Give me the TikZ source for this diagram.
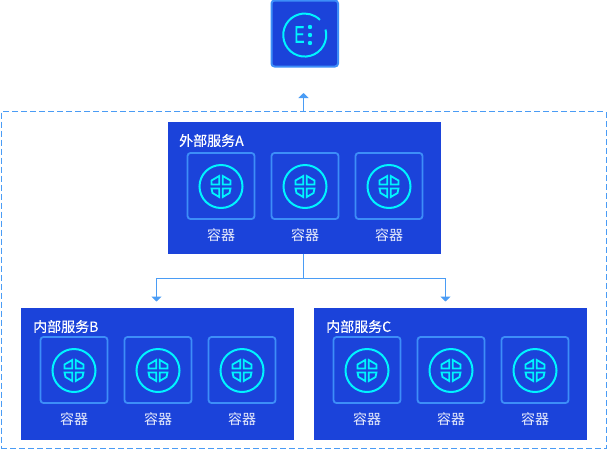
\documentclass[tikz,border=0pt]{standalone}
\usepackage{fontspec}
\usepackage{xcolor}
\usetikzlibrary{arrows.meta, positioning}
\newfontfamily\cjk{Noto Sans CJK SC}
\newfontfamily\cjkmed[FakeBold=0.25]{Noto Sans CJK SC}
\newfontfamily\latin[FakeBold=0.4]{Liberation Sans}
\definecolor{svcblue}{HTML}{1B43DA}
\definecolor{edgeblue}{HTML}{3D8EF8}
\definecolor{linkblue}{HTML}{4A9CF5}
\definecolor{ringcyan}{HTML}{00F4FF}

\begin{document}
\begin{tikzpicture}[x=1pt, y=1pt, >=Stealth]
    \tikzset{
        svcnode/.style={fill=svcblue, rectangle, minimum width=273pt, minimum height=132pt, inner sep=0pt, outer sep=0pt},
        gatenode/.style={draw=edgeblue, fill=svcblue, rectangle, rounded corners=3pt, line width=2pt, minimum width=66.5pt, minimum height=66pt, inner sep=0pt, outer sep=0pt},
        zonenode/.style={draw=linkblue, dash pattern=on 6pt off 3pt, rectangle, line width=1pt, minimum width=605pt, minimum height=337pt, inner sep=0pt, outer sep=0pt},
        boxnode/.style={draw=edgeblue, rectangle, rounded corners=3pt, line width=1.8pt, minimum width=67pt, minimum height=66pt, inner sep=0pt, outer sep=0pt},
        ringnode/.style={draw=ringcyan, circle, line width=2pt, minimum size=43pt, inner sep=0pt, outer sep=0pt},
        titlenode/.style={text=white, font=\cjkmed\fontsize{14}{16}\selectfont, anchor=west, inner sep=0pt},
        labelnode/.style={text=white!90!svcblue, font=\cjk\fontsize{14}{16}\selectfont, inner sep=0pt},
        glyph/.style={draw=ringcyan, line width=1.8pt, line join=miter},
        link/.style={draw=linkblue, line width=1pt, -{Triangle[width=10pt, length=5pt]}},
        podbox/.pic={
            \node [boxnode] (-box) {};
            \node [ringnode] (-ring) at (0,-0.5) {};
            \node [labelnode, below=42.5pt of -box.center] (-label) {容器};
            % four parts of the wheel
            \draw [glyph] (-1.8,10) -- (-9.5,5.5) -- (-9.5,1.5) -- (-1.8,1.5) -- cycle;
            \draw [glyph] (1.8,10) -- (9.5,5.5) -- (9.5,1.5) -- (1.8,1.5) -- cycle;
            \draw [glyph] (-1.8,-11) -- (-8.5,-7) -- (-9.5,-2.5) -- (-1.8,-2.5) -- cycle;
            \draw [glyph] (1.8,-11) -- (8.5,-7) -- (9.5,-2.5) -- (1.8,-2.5) -- cycle;
        }
    }
    \useasboundingbox (0,0) rectangle (607,-450);

    \node [zonenode] (zone) at (303.5,-280) {};
    \node [gatenode] (gate) at (304.75,-33.5) {};

    \node [svcnode, below=55pt of gate, xshift=-0.25pt] (svcA) {};
    \node [svcnode, below=54pt of svcA.south, xshift=-147pt] (svcB) {};
    \node [svcnode, below=54pt of svcA.south, xshift=146pt] (svcC) {};

    \node [titlenode] (titleA) at ([shift={(11,-19)}]svcA.north west) {外部服务A};
    \node [titlenode] (titleB) at ([shift={(12,-19)}]svcB.north west) {内部服务B};
    \node [titlenode] (titleC) at ([shift={(12,-19)}]svcC.north west) {内部服务C};

    \foreach \n/\dx in {1/53, 2/137, 3/221} {
        \pic (a\n) at ([shift={(\dx,-64.5)}]svcA.north west) {podbox};
        \pic (b\n) at ([shift={(\dx,-62.5)}]svcB.north west) {podbox};
        \pic (c\n) at ([shift={(\dx,-62.5)}]svcC.north west) {podbox};
    }

    % gate icon
    \draw [draw=ringcyan, line width=2pt] (325.5,-29.5) arc (15:-315:21.5);
    \node [text=ringcyan, font=\latin\fontsize{24}{24}\selectfont, xscale=0.62, inner sep=0pt] (gateE) at (299.5,-34.5) {E};
    \foreach \n/\y in {1/-27, 2/-35, 3/-43} {
        \fill [ringcyan] (310,\y) circle (2.2pt);
    }

    \coordinate (tipTop) at (303.5,-93);
    \coordinate (tipB) at (156.5,-301.5);
    \coordinate (tipC) at (445.5,-301.5);

    \draw [link] (zone.north) -- (tipTop);
    \draw [link] ([xshift=-1pt]svcA.south) -- ++(0,-24.5) -| (tipB);
    \draw [link] ([xshift=-1pt]svcA.south) -- ++(0,-24.5) -| (tipC);
\end{tikzpicture}
\end{document}
